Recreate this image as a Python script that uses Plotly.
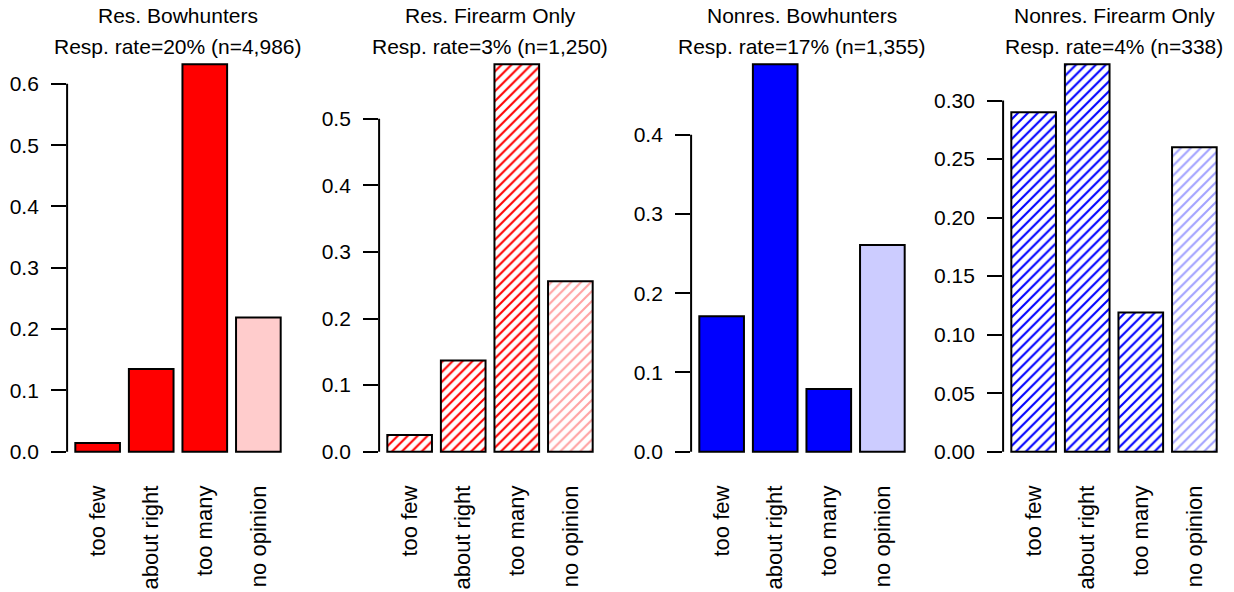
import plotly.graph_objects as go

# Survey answers: share of respondents per answer, by hunter group
categories = ["too few", "about right", "too many", "no opinion"]
groups = ["Res. Bowhunters", "Res. Firearm Only", "Nonres. Bowhunters", "Nonres. Firearm Only"]
resp_rates = ["20%", "3%", "17%", "4%"]
n_resp = ["4,986", "1,250", "1,355", "338"]

res_bow = [0.014, 0.135, 0.632, 0.219]
res_fire = [0.025, 0.137, 0.582, 0.256]
nonres_bow = [0.171, 0.489, 0.079, 0.261]
nonres_fire = [0.290, 0.331, 0.119, 0.260]

ticks_res_bow = [0.0, 0.1, 0.2, 0.3, 0.4, 0.5, 0.6]
ticks_res_fire = [0.0, 0.1, 0.2, 0.3, 0.4, 0.5]
ticks_nonres_bow = [0.0, 0.1, 0.2, 0.3, 0.4]
ticks_nonres_fire = [0.00, 0.05, 0.10, 0.15, 0.20, 0.25, 0.30]

values = [res_bow, res_fire, nonres_bow, nonres_fire]
tick_sets = [ticks_res_bow, ticks_res_fire, ticks_nonres_bow, ticks_nonres_fire]
tick_fmt = [".1f", ".1f", ".1f", ".2f"]

# styling per panel: main colour, light colour for "no opinion", hatched or solid
main_col = ["#FF0000", "#FF0000", "#0000FF", "#0000FF"]
solid_light = ["#FFCCCC", None, "#CCCCFF", None]
hatch_light = [None, "#FFA3A3", None, "#A3A3FF"]
hatched = [False, True, False, True]

W, H = 1234, 592
FONT = "Liberation Sans, Arial, sans-serif"

# plot-region geometry (pixels)
left0, right0, pitch = 67.1, 288.9, 312.0
top_px, bot_px = 48.6, 471.2

fig = go.Figure()
layout = dict(
    width=W, height=H,
    margin=dict(l=0, r=0, t=0, b=0),
    paper_bgcolor="white", plot_bgcolor="white",
    showlegend=False,
    font=dict(family=FONT, size=21, color="black"),
)
annotations = []
shapes = []

for i in range(4):
    vals = values[i]
    sfx = "" if i == 0 else str(i + 1)
    xa, ya = "x" + sfx, "y" + sfx

    if hatched[i]:
        fg = [main_col[i]] * 3 + [hatch_light[i]]
        marker = dict(
            color=fg,
            line=dict(color="black", width=2),
            pattern=dict(shape="/", fillmode="replace", bgcolor="white",
                         fgcolor=fg, size=7, solidity=0.3),
        )
    else:
        marker = dict(
            color=[main_col[i]] * 3 + [solid_light[i]],
            line=dict(color="black", width=2),
        )

    fig.add_trace(go.Bar(x=categories, y=vals, xaxis=xa, yaxis=ya,
                         marker=marker, width=1 / 1.2, hoverinfo="skip"))

    # y range as in a classic barplot: small negative offset + 4% padding
    vmax = max(vals)
    lo = -0.01 * vmax
    span = vmax - lo
    yr = [lo - 0.04 * span, vmax + 0.04 * span]

    x0 = (left0 + pitch * i) / W
    x1 = (right0 + pitch * i) / W
    layout["xaxis" + sfx] = dict(
        domain=[x0, x1], anchor=ya, range=[-0.57, 3.57],
        showline=False, showgrid=False, zeroline=False, ticks="",
        tickangle=-90, tickfont=dict(size=22, family=FONT, color="black"),
        ticklabelstandoff=9, fixedrange=True,
    )
    layout["yaxis" + sfx] = dict(
        domain=[1 - bot_px / H, 1 - top_px / H], anchor=xa, range=yr,
        showline=False, showgrid=False, zeroline=False,
        ticks="outside", ticklen=15, tickwidth=2, tickcolor="black",
        tickvals=tick_sets[i], tickformat=tick_fmt[i],
        tickfont=dict(size=21, family=FONT, color="black"),
        ticklabelstandoff=8, fixedrange=True,
    )
    # axis line spanning only the tick range
    shapes.append(dict(type="line", xref=xa + " domain", yref=ya,
                       x0=0, x1=0, y0=tick_sets[i][0], y1=tick_sets[i][-1],
                       line=dict(color="black", width=2)))

    annotations.append(dict(text=groups[i], xref=xa + " domain", yref="paper",
                            x=0.5, y=1 - 16 / H, xanchor="center", yanchor="middle",
                            showarrow=False, font=dict(size=21, family=FONT, color="black")))
    annotations.append(dict(text=f"Resp. rate={resp_rates[i]} (n={n_resp[i]})",
                            xref=xa + " domain", yref="paper",
                            x=0.5, y=1 - 46 / H, xanchor="center", yanchor="middle",
                            showarrow=False, font=dict(size=21, family=FONT, color="black")))

layout["annotations"] = annotations
layout["shapes"] = shapes
fig.update_layout(**layout)
fig.write_html("out.html")
